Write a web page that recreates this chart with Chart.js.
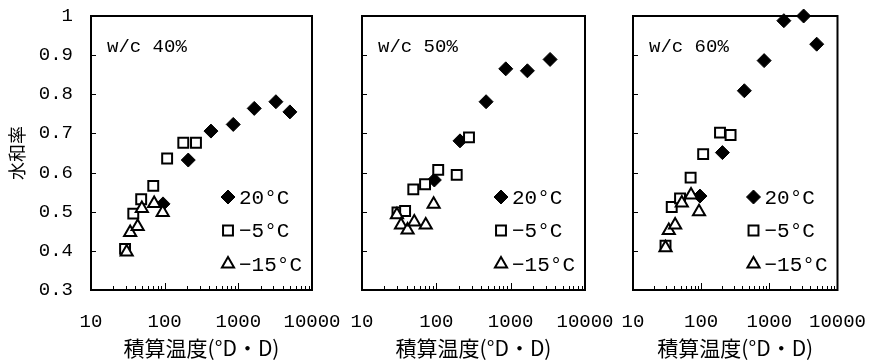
<!DOCTYPE html>
<html>
<head>
<meta charset="utf-8">
<script src="https://cdn.jsdelivr.net/npm/chart.js@4.4.1/dist/chart.umd.min.js"></script>
<style>
  html, body { margin: 0; padding: 0; background: #fff; }
  #wrap { position: relative; width: 887px; height: 361px; }
  #wrap canvas { position: absolute; left: 0; top: 0; width: 887px; height: 361px; }
</style>
</head>
<body>
<div id="wrap">
  <canvas id="c0" width="887" height="361"></canvas>
  <canvas id="c1" width="887" height="361"></canvas>
  <canvas id="c2" width="887" height="361"></canvas>
</div>
<script>
var panelLabels = ["w/c 40%", "w/c 50%", "w/c 60%"];
var seriesNames = ["20°C", "−5°C", "−15°C"];
var xTickLabels = [10, 100, 1000, 10000];
var yTickVals = [0.3, 0.4, 0.5, 0.6, 0.7, 0.8, 0.9, 1];

// w/c 40%
var x40_20 = [95, 209, 425, 853, 1644, 3236, 5010];
var y40_20 = [0.52, 0.632, 0.706, 0.723, 0.764, 0.781, 0.755];
var x40_m5 = [29, 37.5, 48, 70, 108, 179, 266];
var y40_m5 = [0.405, 0.495, 0.532, 0.566, 0.636, 0.676, 0.676];
var x40_m15 = [30.5, 34, 43, 49, 72, 94];
var y40_m15 = [0.397, 0.447, 0.462, 0.508, 0.521, 0.498];

// w/c 50%
var x50_20 = [94, 208, 467, 859, 1679, 3390];
var y50_20 = [0.581, 0.681, 0.781, 0.865, 0.86, 0.889];
var x50_m5 = [30, 38, 49, 70.5, 106, 188, 275];
var y50_m5 = [0.498, 0.502, 0.557, 0.57, 0.607, 0.594, 0.69];
var x50_m15 = [29.5, 33.5, 41, 50.5, 72, 92];
var y50_m15 = [0.492, 0.466, 0.453, 0.474, 0.466, 0.519];

// w/c 60%
var x60_20 = [96, 205, 430, 839, 1633, 3186, 4955];
var y60_20 = [0.54, 0.651, 0.809, 0.886, 0.988, 1.0, 0.928];
var x60_m5 = [30, 37, 49, 70, 107, 189, 270];
var y60_m5 = [0.413, 0.512, 0.534, 0.587, 0.647, 0.702, 0.696];
var x60_m15 = [30, 33.5, 41.5, 52, 71, 93];
var y60_m15 = [0.408, 0.452, 0.466, 0.522, 0.543, 0.5];

var panelData = [
  [[x40_20, y40_20], [x40_m5, y40_m5], [x40_m15, y40_m15]],
  [[x50_20, y50_20], [x50_m5, y50_m5], [x50_m15, y50_m15]],
  [[x60_20, y60_20], [x60_m5, y60_m5], [x60_m15, y60_m15]],
];

// chart area edges of each panel (px)
var areaLeft = [91, 362, 633];
var areaRight = [312, 585, 857];

var styles = [
  { pointStyle: "rectRot", radius: 7, bg: "#000", bw: 1, order: 3 },
  { pointStyle: "rect", radius: 7, bg: "#fff", bw: 2, order: 2 },
  { pointStyle: "triangle", radius: 7, bg: "#fff", bw: 2, order: 1 },
];

var numFont = { family: "'Liberation Mono', monospace", size: 19 };
var jpFont = { family: "'Noto Sans CJK JP', sans-serif", size: 21 };

function toPoints(xs, ys) {
  return xs.map(function (x, i) { return { x: x, y: ys[i] }; });
}

function drawMarker(ctx, st, x, y) {
  ctx.save();
  ctx.fillStyle = st.bg;
  ctx.strokeStyle = "#000";
  ctx.lineWidth = st.bw;
  if (Chart.helpers && Chart.helpers.drawPoint) {
    Chart.helpers.drawPoint(ctx, { pointStyle: st.pointStyle, radius: st.radius, rotation: 0, borderWidth: st.bw }, x, y);
  }
  ctx.restore();
}

var panelDeco = {
  id: "panelDeco",
  beforeDatasetsDraw: function (chart) {
    var ctx = chart.ctx, a = chart.chartArea;
    var xs = chart.scales.x, ys = chart.scales.y;
    ctx.save();
    ctx.strokeStyle = "#000";
    ctx.lineWidth = 2;
    ctx.strokeRect(a.left, a.top, a.right - a.left, a.bottom - a.top);
    ctx.lineWidth = 1;
    ctx.beginPath();
    yTickVals.forEach(function (v) {
      var py = Math.round(ys.getPixelForValue(v)) + 0.5;
      ctx.moveTo(a.left, py);
      ctx.lineTo(a.left + 5, py);
    });
    xs.ticks.forEach(function (t) {
      var px = Math.round(xs.getPixelForValue(t.value)) + 0.5;
      var len = xTickLabels.indexOf(t.value) >= 0 ? 7 : 4;
      ctx.moveTo(px, a.bottom);
      ctx.lineTo(px, a.bottom - len);
    });
    ctx.stroke();
    ctx.restore();
  },
  afterDatasetsDraw: function (chart) {
    var ctx = chart.ctx, a = chart.chartArea;
    var p = chart.options.plugins.panelDeco.index;
    ctx.save();
    ctx.fillStyle = "#000";
    ctx.textBaseline = "middle";
    ctx.textAlign = "left";
    ctx.font = "19px 'Liberation Mono', monospace";
    ctx.fillText(panelLabels[p], a.left + 16, a.top + 31);
    ctx.font = "21px 'Liberation Mono', monospace";
    for (var i = 0; i < seriesNames.length; i++) {
      var ly = a.top + 181 + i * 33.5;
      var lx = a.right - 84;
      drawMarker(ctx, styles[i], lx, ly);
      ctx.fillStyle = "#000";
      ctx.fillText(seriesNames[i], lx + 11, ly + 1);
    }
    ctx.restore();
  },
};

function makeChart(p) {
  var datasets = panelData[p].map(function (s, i) {
    var st = styles[i];
    return {
      label: seriesNames[i],
      data: toPoints(s[0], s[1]),
      pointStyle: st.pointStyle,
      pointRadius: st.radius,
      pointBackgroundColor: st.bg,
      pointBorderColor: "#000",
      pointBorderWidth: st.bw,
      order: st.order,
      clip: false,
    };
  });
  var first = p === 0;
  new Chart(document.getElementById("c" + p), {
    type: "scatter",
    data: { datasets: datasets },
    plugins: [panelDeco],
    options: {
      responsive: false,
      animation: false,
      devicePixelRatio: 1,
      layout: {
        padding: {
          left: first ? 0 : areaLeft[p],
          right: 887 - areaRight[p],
          top: 16,
          bottom: 0,
        },
      },
      scales: {
        x: {
          type: "logarithmic",
          min: 10,
          max: 10000,
          grid: { display: false, drawTicks: false },
          border: { display: false },
          afterBuildTicks: function (scale) {
            var t = [];
            for (var d = 10; d < 10000; d *= 10) {
              for (var k = 1; k < 10; k++) t.push({ value: d * k });
            }
            t.push({ value: 10000 });
            scale.ticks = t;
          },
          afterFit: function (scale) { scale.height = 71; },
          ticks: {
            autoSkip: false,
            maxRotation: 0,
            padding: 21,
            color: "#000",
            font: numFont,
            callback: function (v) {
              return xTickLabels.indexOf(v) >= 0 ? String(v) : "";
            },
          },
          title: {
            display: true,
            text: "積算温度(°D・D)",
            color: "#000",
            font: jpFont,
            padding: { top: 0, bottom: 0 },
          },
        },
        y: {
          min: 0.3,
          max: 1,
          grid: { display: false, drawTicks: false },
          border: { display: false },
          afterFit: function (scale) {
            scale.width = first ? 91 : 0;
            scale.paddingTop = 0;
            scale.paddingBottom = 0;
          },
          ticks: {
            display: first,
            stepSize: 0.1,
            padding: 18,
            color: "#000",
            font: numFont,
            callback: function (v) {
              return Math.abs(v - 1) < 1e-9 ? "1" : v.toFixed(1);
            },
          },
          title: {
            display: first,
            text: "水和率",
            color: "#000",
            font: { family: "'Noto Sans CJK JP', sans-serif", size: 18 },
            padding: { top: 6, bottom: 0 },
          },
        },
      },
      plugins: {
        legend: { display: false },
        tooltip: { enabled: false },
        panelDeco: { index: p },
      },
    },
  });
}

makeChart(0);
makeChart(1);
makeChart(2);
</script>
</body>
</html>
